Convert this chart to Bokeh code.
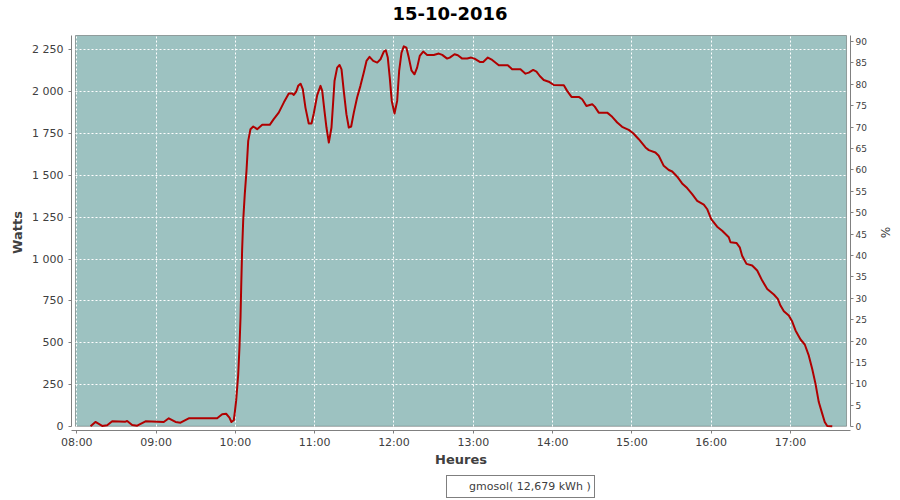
import pandas as pd
from bokeh.plotting import figure
from bokeh.layouts import column
from bokeh.models import (Range1d, LinearAxis, FixedTicker, CustomJSTickFormatter,
                          DatetimeTickFormatter, BoxAnnotation, Legend, LegendItem,
                          ColumnDataSource, Title)
from bokeh.embed import file_html
from bokeh.resources import INLINE

DAY = "2016-10-15"
TITLE = "15-10-2016"
SERIES_LABEL = "gmosol( 12,679 kWh )"

times = [
    "08:10:24", "08:14:06", "08:19:12", "08:23:00", "08:26:48", "08:36:48", "08:38:06",
    "08:41:54", "08:45:42", "08:52:00", "09:05:48", "09:09:36", "09:14:42", "09:18:30",
    "09:24:42", "09:46:12", "09:50:00", "09:53:00", "09:55:30", "09:57:00", "09:58:48",
    "09:59:30", "10:00:36", "10:01:24", "10:02:06", "10:03:06", "10:03:54", "10:04:24",
    "10:05:06", "10:05:54", "10:07:06", "10:08:24", "10:09:42", "10:11:24", "10:13:30",
    "10:16:30", "10:20:18", "10:26:00", "10:29:00", "10:32:48", "10:36:36", "10:40:24",
    "10:43:00", "10:44:12", "10:46:00", "10:47:30", "10:49:18", "10:51:00", "10:53:00",
    "10:55:30", "10:57:36", "10:59:18", "11:01:54", "11:04:24", "11:05:42", "11:07:24",
    "11:08:54", "11:10:42", "11:12:42", "11:13:42", "11:15:00", "11:17:00", "11:18:48",
    "11:20:18", "11:22:00", "11:24:00", "11:25:48", "11:27:36", "11:29:36", "11:32:06",
    "11:34:36", "11:37:06", "11:39:12", "11:41:30", "11:44:18", "11:47:18", "11:49:48",
    "11:52:18", "11:53:48", "11:55:18", "11:56:48", "11:58:18", "12:00:24", "12:02:24",
    "12:03:54", "12:05:42", "12:07:24", "12:09:24", "12:11:12", "12:13:12", "12:15:30",
    "12:17:30", "12:19:30", "12:22:06", "12:25:06", "12:30:06", "12:33:54", "12:36:30",
    "12:40:12", "12:42:12", "12:45:48", "12:48:18", "12:51:36", "12:55:24", "12:58:24",
    "13:00:54", "13:04:54", "13:07:30", "13:11:00", "13:14:18", "13:19:18", "13:26:06",
    "13:29:24", "13:35:42", "13:39:30", "13:42:00", "13:45:18", "13:47:48", "13:50:18",
    "13:53:18", "13:57:06", "14:00:54", "14:08:30", "14:11:00", "14:14:18", "14:19:48",
    "14:22:24", "14:25:36", "14:30:00", "14:31:54", "14:34:54", "14:41:18", "14:45:06",
    "14:48:54", "14:52:36", "14:57:36", "15:01:00", "15:05:12", "15:10:18", "15:12:48",
    "15:17:48", "15:20:18", "15:24:06", "15:27:54", "15:30:30", "15:34:18", "15:38:00",
    "15:41:48", "15:45:36", "15:49:24", "15:54:24", "15:56:54", "16:00:00", "16:04:30",
    "16:08:18", "16:13:18", "16:14:36", "16:19:06", "16:21:36", "16:23:24", "16:26:42",
    "16:31:00", "16:34:48", "16:38:36", "16:42:24", "16:47:24", "16:50:24", "16:52:24",
    "16:55:00", "16:58:42", "17:01:18", "17:03:48", "17:07:36", "17:10:48", "17:13:48",
    "17:16:24", "17:18:54", "17:21:24", "17:24:00", "17:25:54", "17:27:48", "17:31:36",
]

watts = [
    0, 26, 2, 6, 30, 28, 32,
    8, 4, 30, 26, 48, 26, 22,
    48, 48, 72, 75, 52, 26, 36,
    80, 155, 235, 305, 475, 655, 835,
    1055, 1229, 1388, 1527, 1706, 1776, 1792,
    1776, 1802, 1802, 1836, 1875, 1935, 1989,
    1989, 1981, 2000, 2035, 2048, 2015, 1905,
    1810, 1810, 1870, 1980, 2035, 2005, 1885,
    1786, 1696, 1786, 1905, 2064, 2144, 2160,
    2134, 2005, 1866, 1786, 1792, 1875, 1965,
    2035, 2114, 2184, 2208, 2184, 2174, 2194,
    2240, 2248, 2204, 2084, 1945, 1870, 1945,
    2124, 2233, 2271, 2263, 2204, 2128, 2104,
    2144, 2214, 2240, 2220, 2220, 2228, 2220,
    2198, 2204, 2224, 2218, 2198, 2198, 2204,
    2198, 2178, 2178, 2204, 2190, 2158, 2158,
    2134, 2134, 2108, 2114, 2130, 2120, 2094,
    2070, 2060, 2040, 2038, 2005, 1969, 1969,
    1955, 1915, 1925, 1911, 1875, 1875, 1850,
    1816, 1790, 1772, 1752, 1716, 1667, 1651,
    1637, 1617, 1557, 1532, 1523, 1492, 1452,
    1424, 1388, 1348, 1325, 1299, 1239, 1193,
    1169, 1130, 1100, 1096, 1070, 1020, 971,
    961, 931, 871, 821, 788, 762, 722,
    688, 662, 626, 573, 519, 489, 424,
    344, 255, 145, 76, 26, 2, 0,
]

hour_ticks = ["08:00", "09:00", "10:00", "11:00", "12:00", "13:00",
              "14:00", "15:00", "16:00", "17:00"]
watt_ticks = [0, 250, 500, 750, 1000, 1250, 1500, 1750, 2000, 2250]
pct_ticks = list(range(0, 91, 5))

# axis extents (frame is 4px larger than the plot area, like JFreeChart's axis offset)
X_FRAME = ("07:56:00", "17:45:24")
X_AREA = ("07:59:01", "17:42:24")
Y_FRAME = (-25, 2342)
Y_AREA_TOP = 2336
PCT_FRAME = (-0.9, 91.65)
PCT_AREA_TOP = 91.4

TEAL = "#9DC2C1"
RED = "#B00000"
GREY = "#808080"
TXT = "#404040"
FONT = "DejaVu Sans"


def ms(t):
    return pd.Timestamp(f"{DAY} {t}").value / 1e6


src = ColumnDataSource(dict(t=pd.to_datetime([f"{DAY} {t}" for t in times]), w=watts))

p = figure(frame_width=779, frame_height=396, x_axis_type="datetime", output_backend="svg",
           toolbar_location=None, title=TITLE,
           x_range=Range1d(ms(X_FRAME[0]), ms(X_FRAME[1])),
           y_range=Range1d(*Y_FRAME),
           min_border_left=71, min_border_right=50, min_border_top=34, min_border_bottom=40,
           background_fill_color="white", border_fill_color="white",
           outline_line_color=None)

p.title.align = "left"
p.title.offset = 321
p.title.vertical_align = "top"
p.title.standoff = 0
p.title.text_font = FONT
p.title.text_font_style = "bold"
p.title.text_font_size = "18px"
p.title.text_color = "black"

# blank spacer between the title and the plot area
spacer = Title(text=" ", text_font_size="1px", standoff=10)
p.above = [spacer] + [t for t in p.above]

area = BoxAnnotation(left=ms(X_AREA[0]), right=ms(X_AREA[1]), bottom=0, top=Y_AREA_TOP,
                     fill_color=TEAL, fill_alpha=1.0, line_color="black", line_width=1,
                     level="underlay")
p.center = [area] + list(p.center)

hour_ms = [ms(h) for h in hour_ticks]
p.xgrid.ticker = FixedTicker(ticks=hour_ms)
p.ygrid.ticker = FixedTicker(ticks=watt_ticks[1:])
for g in (p.xgrid, p.ygrid):
    g.grid_line_color = "white"
    g.grid_line_dash = "2 2"
    g.grid_line_width = 1

r = p.line("t", "w", source=src, line_color=RED, line_width=2, line_join="round")

fmt = "%H:%M"
xaxis = p.xaxis[0]
yaxis = p.yaxis[0]
xaxis.ticker = FixedTicker(ticks=hour_ms)
xaxis.formatter = DatetimeTickFormatter(milliseconds=fmt, seconds=fmt, minsec=fmt,
                                        minutes=fmt, hourmin=fmt, hours=fmt, days=fmt,
                                        months=fmt, years=fmt)
yaxis.ticker = FixedTicker(ticks=watt_ticks)
yaxis.bounds = (0, Y_AREA_TOP)
yaxis.formatter = CustomJSTickFormatter(
    code="return tick.toFixed(0).replace(/\\B(?=(\\d{3})+(?!\\d))/g, ' ');")
xaxis.axis_label = "Heures"
yaxis.axis_label = "Watts"

p.extra_y_ranges = {"pct": Range1d(*PCT_FRAME)}
raxis = LinearAxis(y_range_name="pct", ticker=FixedTicker(ticks=pct_ticks), axis_label="%",
                   bounds=(0, PCT_AREA_TOP))
p.add_layout(raxis, "right")

for ax in (xaxis, yaxis, raxis):
    ax.axis_line_color = GREY
    ax.major_tick_line_color = GREY
    ax.minor_tick_line_color = None
    ax.major_tick_in = 0
    ax.major_tick_out = 3
    ax.major_label_text_font = FONT
    ax.major_label_text_font_size = "11px"
    ax.major_label_text_color = TXT
    ax.axis_label_text_font = FONT
    ax.axis_label_text_font_size = "13px"
    ax.axis_label_text_font_style = "bold"
    ax.axis_label_text_color = TXT

yaxis.major_label_standoff = 5
yaxis.axis_label_standoff = 4
xaxis.major_label_standoff = 2
xaxis.axis_label_standoff = 0
raxis.major_label_text_font_size = "9px"
raxis.major_label_standoff = 2
raxis.axis_label_standoff = 8
raxis.axis_label_text_font_style = "normal"
raxis.axis_label_text_font_size = "12px"

# legend row: a small second figure underneath the chart
p2 = figure(width=900, height=30, output_backend="svg", toolbar_location=None,
            x_axis_location=None, y_axis_location=None,
            x_range=Range1d(0, 1), y_range=Range1d(0, 1),
            min_border_left=0, min_border_right=0, min_border_top=0, min_border_bottom=0,
            background_fill_color="white", border_fill_color="white",
            outline_line_color=None)
p2.grid.visible = False
r2 = p2.line(x=[], y=[], line_color=RED, line_width=2)

legend = Legend(items=[LegendItem(label=SERIES_LABEL, renderers=[r2])],
                location=(375, 2), orientation="horizontal",
                border_line_color="black", border_line_width=1,
                background_fill_color="white", background_fill_alpha=1.0,
                padding=3, margin=0, spacing=0, label_standoff=3,
                glyph_width=16, glyph_height=15, label_height=15,
                label_text_font=FONT, label_text_font_size="11px",
                label_text_color=TXT)
p2.add_layout(legend)

layout = column(p, p2, spacing=0)

open("out.html", "w").write(file_html(layout, INLINE))
